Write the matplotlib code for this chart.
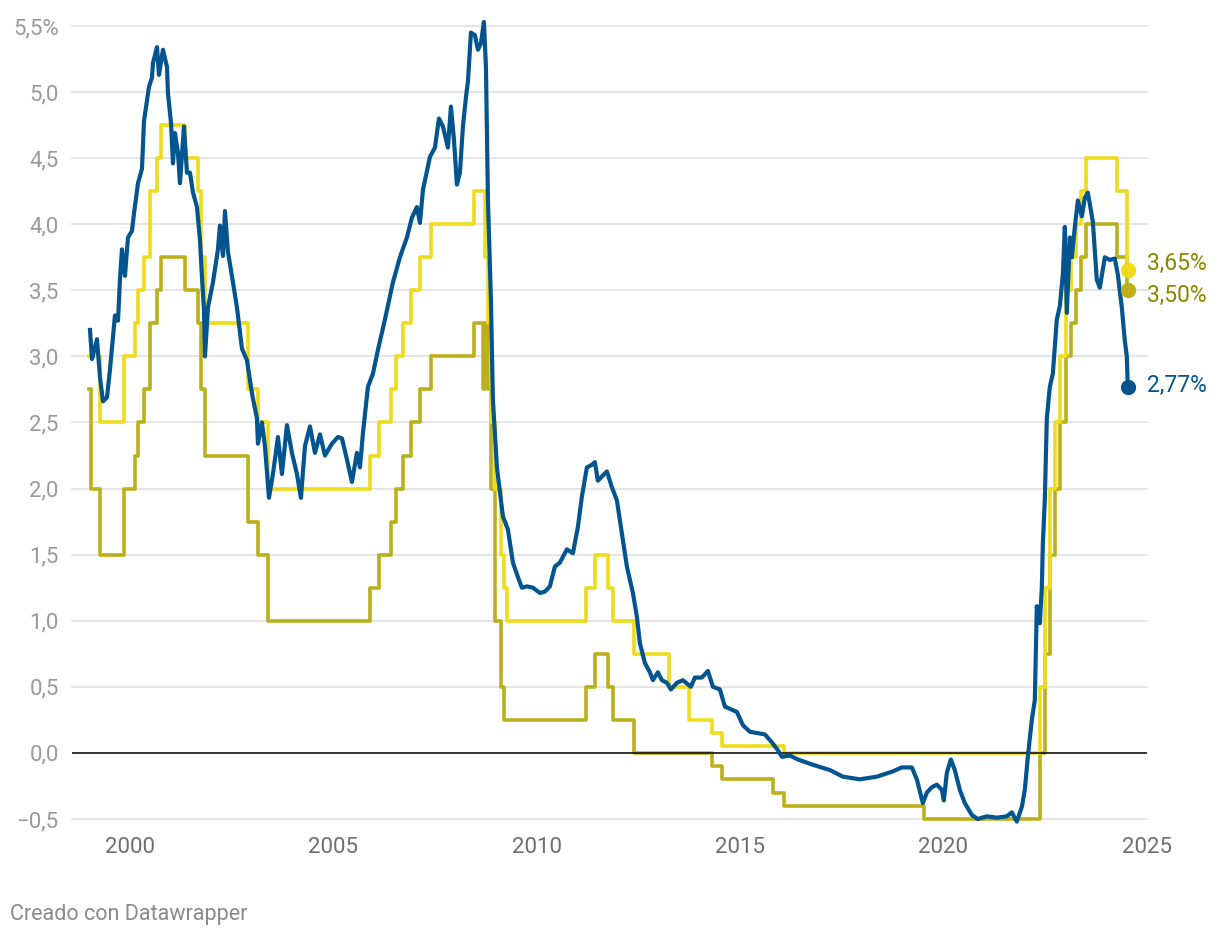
import matplotlib.pyplot as plt

plt.rcParams['font.family'] = ['Roboto', 'DejaVu Sans']

# tipo de las operaciones principales de financiación (amarillo), en años decimales
fechas_mro = [1999.0, 1999.263, 1999.860, 2000.123, 2000.204, 2000.352, 2000.492, 2000.656, 2000.762,
              2001.352, 2001.679, 2001.738, 2001.844, 2002.908, 2003.154, 2003.400,
              2005.900, 2006.128, 2006.409, 2006.539, 2006.718, 2006.908, 2007.129, 2007.392, 2008.464,
              2008.727, 2008.800, 2008.874, 2008.985, 2009.120, 2009.194, 2009.268,
              2011.202, 2011.431, 2011.758, 2011.866, 2012.397, 2013.257, 2013.749, 2014.314, 2014.560, 2016.077,
              2022.380, 2022.500, 2022.616, 2022.739, 2022.862, 2023.009, 2023.132, 2023.255, 2023.378, 2023.501,
              2024.263, 2024.521, 2024.533]
mro = [3.0, 2.5, 3.0, 3.25, 3.5, 3.75, 4.25, 4.5, 4.75,
       4.5, 4.25, 3.75, 3.25, 2.75, 2.5, 2.0,
       2.25, 2.5, 2.75, 3.0, 3.25, 3.5, 3.75, 4.0, 4.25,
       3.75, 3.25, 2.5, 2.0, 1.5, 1.25, 1.0,
       1.25, 1.5, 1.25, 1.0, 0.75, 0.5, 0.25, 0.15, 0.05, 0.0,
       0.5, 1.25, 2.0, 2.5, 3.0, 3.5, 3.75, 4.0, 4.25, 4.5,
       4.25, 3.65, 3.65]

# facilidad de depósito (verde oliva)
fechas_depo = [1999.0, 1999.034, 1999.263, 1999.860, 2000.123, 2000.204, 2000.352, 2000.492, 2000.656, 2000.762,
               2001.352, 2001.679, 2001.738, 2001.844, 2002.908, 2003.154, 2003.400,
               2005.900, 2006.128, 2006.409, 2006.539, 2006.718, 2006.908, 2007.129, 2007.392,
               2008.464, 2008.678, 2008.727, 2008.800, 2008.874, 2008.985, 2009.120, 2009.194,
               2011.202, 2011.431, 2011.758, 2011.866, 2012.397,
               2014.314, 2014.560, 2015.814, 2016.077, 2019.526,
               2022.380, 2022.500, 2022.616, 2022.739, 2022.862, 2023.009, 2023.132, 2023.255, 2023.378, 2023.501,
               2024.263, 2024.521, 2024.533]
depo = [2.75, 2.0, 1.5, 2.0, 2.25, 2.5, 2.75, 3.25, 3.5, 3.75,
        3.5, 3.25, 2.75, 2.25, 1.75, 1.5, 1.0,
        1.25, 1.5, 1.75, 2.0, 2.25, 2.5, 2.75, 3.0,
        3.25, 2.75, 3.25, 2.75, 2.0, 1.0, 0.5, 0.25,
        0.5, 0.75, 0.5, 0.25, 0.0,
        -0.1, -0.2, -0.3, -0.4, -0.5,
        0.0, 0.75, 1.5, 2.0, 2.5, 3.0, 3.25, 3.5, 3.75, 4.0,
        3.75, 3.5, 3.5]

# euríbor a 12 meses (azul)
fechas_eur = [1999.017, 1999.066, 1999.189, 1999.263, 1999.336, 1999.435, 1999.508, 1999.631, 1999.705, 1999.754,
              1999.803, 1999.877, 1999.951, 2000.049, 2000.098, 2000.197, 2000.295, 2000.344, 2000.418, 2000.467,
              2000.541, 2000.565, 2000.664, 2000.713, 2000.811, 2000.910, 2000.934, 2001.008, 2001.057, 2001.106,
              2001.180, 2001.229, 2001.327, 2001.401, 2001.475, 2001.549, 2001.647, 2001.721, 2001.770, 2001.819,
              2001.844, 2001.917, 2002.040, 2002.163, 2002.212, 2002.286, 2002.335, 2002.409, 2002.532, 2002.630,
              2002.753, 2002.876, 2002.999, 2003.122, 2003.146, 2003.245, 2003.319, 2003.417, 2003.515, 2003.638,
              2003.736, 2003.859, 2003.982, 2004.105, 2004.203, 2004.302, 2004.425, 2004.548, 2004.671, 2004.794,
              2004.966, 2005.113, 2005.211, 2005.334, 2005.457, 2005.580, 2005.654, 2005.728, 2005.851, 2005.974,
              2006.097, 2006.269, 2006.465, 2006.637, 2006.809, 2006.932, 2007.055, 2007.129, 2007.203, 2007.375,
              2007.498, 2007.596, 2007.694, 2007.817, 2007.891, 2007.965, 2008.038, 2008.112, 2008.186, 2008.260,
              2008.309, 2008.383, 2008.481, 2008.555, 2008.629, 2008.702, 2008.752, 2008.801, 2008.874, 2008.923,
              2009.022, 2009.169, 2009.292, 2009.341, 2009.415, 2009.538, 2009.636, 2009.759, 2009.906, 2010.078,
              2010.201, 2010.324, 2010.447, 2010.570, 2010.742, 2010.890, 2011.013, 2011.111, 2011.234, 2011.357,
              2011.431, 2011.504, 2011.726, 2011.849, 2011.972, 2012.094, 2012.217, 2012.365, 2012.463, 2012.537,
              2012.660, 2012.783, 2012.857, 2012.980, 2013.078, 2013.201, 2013.299, 2013.447, 2013.594, 2013.791,
              2013.889, 2014.061, 2014.209, 2014.332, 2014.504, 2014.627, 2014.922, 2015.069, 2015.240, 2015.609,
              2015.782, 2015.929, 2016.027, 2016.224, 2016.421, 2016.790, 2017.208, 2017.527, 2017.945, 2018.363,
              2018.756, 2018.977, 2019.223, 2019.346, 2019.494, 2019.592, 2019.715, 2019.838, 2019.961, 2020.010,
              2020.084, 2020.182, 2020.280, 2020.403, 2020.526, 2020.698, 2020.845, 2021.067, 2021.313, 2021.558,
              2021.681, 2021.804, 2021.927, 2022.001, 2022.075, 2022.173, 2022.247, 2022.296, 2022.370, 2022.419,
              2022.444, 2022.493, 2022.542, 2022.616, 2022.690, 2022.788, 2022.862, 2022.936, 2022.985, 2023.034,
              2023.108, 2023.157, 2023.231, 2023.305, 2023.403, 2023.477, 2023.550, 2023.673, 2023.771, 2023.845,
              2023.968, 2024.091, 2024.214, 2024.287, 2024.386, 2024.459, 2024.508, 2024.533]
euribor = [3.20, 2.98, 3.13, 2.84, 2.66, 2.69, 2.90, 3.31, 3.27, 3.58,
           3.81, 3.61, 3.90, 3.95, 4.08, 4.31, 4.42, 4.78, 4.94, 5.04,
           5.11, 5.22, 5.34, 5.13, 5.32, 5.19, 4.99, 4.77, 4.46, 4.69,
           4.54, 4.31, 4.74, 4.39, 4.39, 4.24, 4.13, 3.88, 3.60, 3.35,
           3.00, 3.37, 3.56, 3.81, 3.99, 3.76, 4.10, 3.79, 3.56, 3.37,
           3.06, 2.97, 2.72, 2.53, 2.34, 2.50, 2.32, 1.93, 2.11, 2.39,
           2.11, 2.48, 2.27, 2.11, 1.93, 2.32, 2.47, 2.27, 2.41, 2.25,
           2.34, 2.39, 2.38, 2.22, 2.05, 2.27, 2.16, 2.42, 2.77, 2.87,
           3.05, 3.28, 3.56, 3.75, 3.90, 4.05, 4.13, 4.01, 4.26, 4.51,
           4.58, 4.80, 4.74, 4.58, 4.89, 4.64, 4.30, 4.39, 4.74, 4.96,
           5.08, 5.45, 5.43, 5.32, 5.37, 5.53, 5.19, 4.18, 3.43, 2.67,
           2.16, 1.79, 1.69, 1.59, 1.44, 1.33, 1.25, 1.26, 1.25, 1.21,
           1.22, 1.26, 1.41, 1.44, 1.54, 1.51, 1.71, 1.94, 2.16, 2.18,
           2.20, 2.06, 2.13, 2.01, 1.91, 1.66, 1.41, 1.21, 1.03, 0.83,
           0.68, 0.61, 0.55, 0.61, 0.55, 0.53, 0.48, 0.53, 0.55, 0.50,
           0.57, 0.57, 0.62, 0.50, 0.48, 0.35, 0.31, 0.21, 0.16, 0.14,
           0.08, 0.02, -0.03, -0.02, -0.05, -0.09, -0.13, -0.18, -0.20, -0.18,
           -0.14, -0.11, -0.11, -0.20, -0.38, -0.30, -0.26, -0.24, -0.28, -0.36,
           -0.15, -0.05, -0.13, -0.28, -0.38, -0.47, -0.50, -0.48, -0.49, -0.48,
           -0.45, -0.52, -0.41, -0.28, -0.03, 0.25, 0.40, 1.11, 0.98, 1.25,
           1.58, 1.92, 2.53, 2.77, 2.87, 3.28, 3.38, 3.62, 3.98, 3.33,
           3.90, 3.75, 3.98, 4.18, 4.06, 4.20, 4.24, 4.02, 3.58, 3.52,
           3.75, 3.73, 3.74, 3.62, 3.37, 3.12, 3.00, 2.77]

etiquetas_finales = ['3,65%', '3,50%', '2,77%']
y_ticks = [-0.5, 0.0, 0.5, 1.0, 1.5, 2.0, 2.5, 3.0, 3.5, 4.0, 4.5, 5.0, 5.5]
y_labels = ['\u22120,5', '0,0', '0,5', '1,0', '1,5', '2,0', '2,5', '3,0', '3,5', '4,0', '4,5', '5,0', '5,5%']
x_ticks = [2000, 2005, 2010, 2015, 2020, 2025]

amarillo = '#eedb1c'
oliva = '#bbb01a'
azul = '#03548f'
oliva_texto = '#8b8600'

fig = plt.figure(figsize=(12.2, 9.38), dpi=100)
ax = fig.add_axes([0.059, 0.1269, 0.881, 0.8454])

for t in y_ticks:
    if t != 0:
        ax.axhline(t, color='#e3e3e3', lw=1.3, zorder=0, clip_on=False)

ax.plot(fechas_depo, depo, drawstyle='steps-post', color=oliva, lw=2.6, zorder=2, clip_on=False)
ax.plot(fechas_mro, mro, drawstyle='steps-post', color=amarillo, lw=2.6, zorder=3, clip_on=False)
ax.axhline(0, color='#111111', lw=1.2, zorder=4)
ax.plot(fechas_eur, euribor, color=azul, lw=3.0, zorder=5, clip_on=False, solid_joinstyle='round')

# puntos y etiquetas finales
finales = [(fechas_mro[-1], mro[-1], amarillo, oliva_texto, 5),
           (fechas_depo[-1], depo[-1], oliva, oliva_texto, -3.5),
           (fechas_eur[-1], euribor[-1], azul, azul, 1)]
for (fx, fy, c, ct, dy), txt in zip(finales, etiquetas_finales):
    ax.plot(fx, fy, 'o', ms=10, color=c, zorder=6, clip_on=False)
    ax.annotate(txt, (fx, fy), xytext=(13.5, dy), textcoords='offset points',
                ha='left', va='center', fontsize=16.5, color=ct)

ax.set_xlim(1998.574, 2025.0)
ax.set_ylim(-0.5, 5.5)
ax.set_xticks(x_ticks)
ax.set_xticklabels([str(x) for x in x_ticks])
ax.set_yticks(y_ticks)
ax.set_yticklabels(y_labels)
ax.tick_params(axis='y', length=0, pad=9.5, labelsize=16, labelcolor='#9a9a9a')
ax.tick_params(axis='x', length=0, pad=13, labelsize=16, labelcolor='#6e6e6e')
for s in ax.spines.values():
    s.set_visible(False)

fig.text(10 / 1220, 1 - 914 / 938, 'Creado con Datawrapper', fontsize=15.5,
         color='#8a8a8a', ha='left', va='center')

fig.savefig('out.png', dpi=100)
